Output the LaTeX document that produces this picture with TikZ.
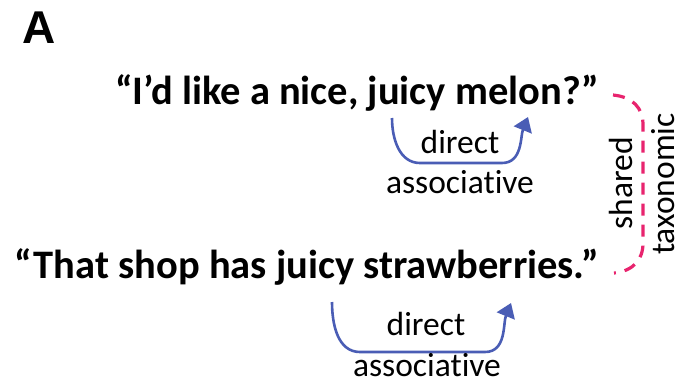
\documentclass[tikz,border=0pt]{standalone}
\usepackage{fontspec}
\setmainfont{Carlito}[RawFeature=-liga]
\newfontfamily\panelfont{Liberation Sans}
\usetikzlibrary{arrows.meta}
\definecolor{assocblue}{HTML}{4A5DB5}
\definecolor{taxopink}{HTML}{E8246E}
\tikzset{
  sentence/.style={font=\bfseries\fontsize{40.5}{40.5}\selectfont, inner sep=0pt, anchor=base},
  relation/.style={font=\fontsize{33.5}{33.5}\selectfont, inner sep=0pt, anchor=base},
  assoc/.style={draw=assocblue, line width=2.6pt, -{Triangle[length=14pt,width=19pt]}},
  taxo/.style={draw=taxopink, line width=3.2pt, dash pattern=on 12pt off 9pt},
}
\begin{document}
\begin{tikzpicture}[x=1pt,y=-1pt]
\useasboundingbox (0,0) rectangle (695,383);

% panel letter
\node[font=\panelfont\bfseries\fontsize{46}{46}\selectfont, inner sep=0pt, anchor=base west] (panel) at (22,43) {A};

% the two sentences
\node[sentence] (melon) at (357,104) {“I’d like a nice, juicy melon?”};
\node[sentence] (straw) at (307,278) {“That shop has juicy strawberries.”};

% direct associative link, first sentence
\coordinate (m1) at (392,118);
\coordinate (m2) at (528,117);
\draw[assoc] (m1) to[out=-90,in=180] (420,163) -- (502,163) to[out=0,in=-112] (m2);
\node[relation] (mdirect) at (460,153) {direct};
\node[relation] (massoc) at (460,193) {associative};

% direct associative link, second sentence
\coordinate (s1) at (332,302);
\coordinate (s2) at (511,303);
\draw[assoc] (s1) to[out=-90,in=180] (360,352) -- (485,352) to[out=0,in=-112] (s2);
\node[relation] (sdirect) at (426,335) {direct};
\node[relation] (sassoc) at (427,376) {associative};

% shared taxonomic bracket
\coordinate (t1) at (613,95);
\coordinate (t2) at (614,273);
\draw[taxo] (t1) .. controls (633,97) and (643,108) .. (643,125)
  -- (643,243) .. controls (643,260) and (633,271) .. (t2);
\node[relation, rotate=90, anchor=base] (shared) at (632,183) {shared};
\node[relation, rotate=90, anchor=base] (taxo) at (674,184) {taxonomic};
\end{tikzpicture}
\end{document}
